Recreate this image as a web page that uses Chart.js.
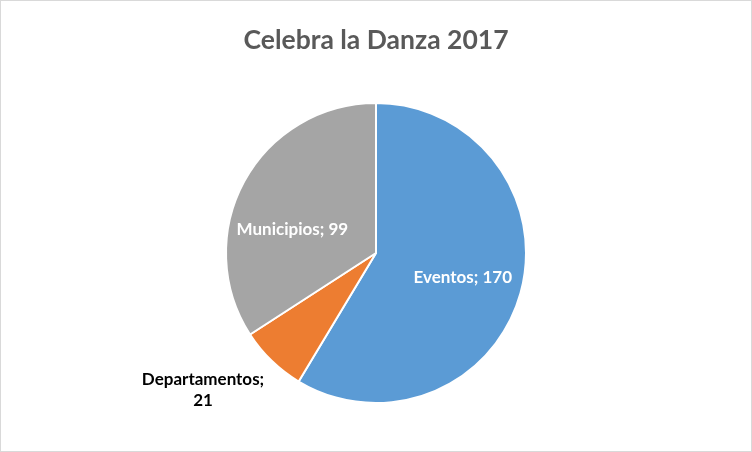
<!DOCTYPE html>
<html>
<head>
<meta charset="utf-8">
<script src="https://cdn.jsdelivr.net/npm/chart.js@4/dist/chart.umd.min.js"></script>
<style>
  html, body { margin: 0; padding: 0; background: #fff; }
  #wrap { width: 752px; height: 452px; }
</style>
</head>
<body>
<div id="wrap"><canvas id="c" width="752" height="452"></canvas></div>
<script>
const titleText = "Celebra la Danza 2017";
const categories = ["Eventos", "Departamentos", "Municipios"];
const values = [170, 21, 99];
const sliceColors = ["#5B9BD5", "#ED7D31", "#A5A5A5"];
const labelColors = ["#FFFFFF", "#000000", "#FFFFFF"];
const labelRadius = [0.6, 1.47, 0.58];
const labelAngleShift = [0, 7.6, -12.6];
const labelLines = [["Eventos; 170"], ["Departamentos;", "21"], ["Municipios; 99"]];

const frame = {
  id: "frame",
  beforeDraw(chart) {
    const ctx = chart.ctx;
    ctx.save();
    ctx.fillStyle = "#fff";
    ctx.fillRect(0, 0, chart.width, chart.height);
    ctx.strokeStyle = "#D9D9D9";
    ctx.lineWidth = 1;
    ctx.strokeRect(0.5, 0.5, chart.width - 1, chart.height - 1);
    ctx.restore();
  }
};

const sliceLabels = {
  id: "sliceLabels",
  afterDatasetsDraw(chart) {
    const ctx = chart.ctx;
    const meta = chart.getDatasetMeta(0);
    ctx.save();
    ctx.font = "bold 17px Lato, 'Open Sans', sans-serif";
    ctx.textAlign = "center";
    ctx.textBaseline = "middle";
    meta.data.forEach((arc, i) => {
      const p = arc.getProps(["x", "y", "startAngle", "endAngle", "outerRadius"], true);
      const mid = (p.startAngle + p.endAngle) / 2 + labelAngleShift[i] * Math.PI / 180;
      const r = p.outerRadius * labelRadius[i];
      const x = p.x + Math.cos(mid) * r;
      const y = p.y + Math.sin(mid) * r;
      const lines = labelLines[i];
      const lh = 21;
      ctx.fillStyle = labelColors[i];
      lines.forEach((t, k) => {
        ctx.fillText(t, x, y + (k - (lines.length - 1) / 2) * lh);
      });
    });
    ctx.restore();
  }
};

new Chart(document.getElementById("c"), {
  type: "pie",
  data: {
    labels: categories,
    datasets: [{
      data: values,
      backgroundColor: sliceColors,
      borderColor: "#FFFFFF",
      borderWidth: 2
    }]
  },
  options: {
    responsive: false,
    animation: false,
    devicePixelRatio: 1,
    layout: { padding: { top: 0, bottom: 48, left: 0, right: 0 } },
    plugins: {
      legend: { display: false },
      tooltip: { enabled: false },
      title: {
        display: true,
        text: titleText,
        color: "#595959",
        font: { family: "Lato, 'Open Sans', sans-serif", size: 26.5, weight: "bold", lineHeight: 1.2 },
        padding: { top: 24.5, bottom: 45.7 }
      }
    }
  },
  plugins: [frame, sliceLabels]
});
</script>
</body>
</html>
